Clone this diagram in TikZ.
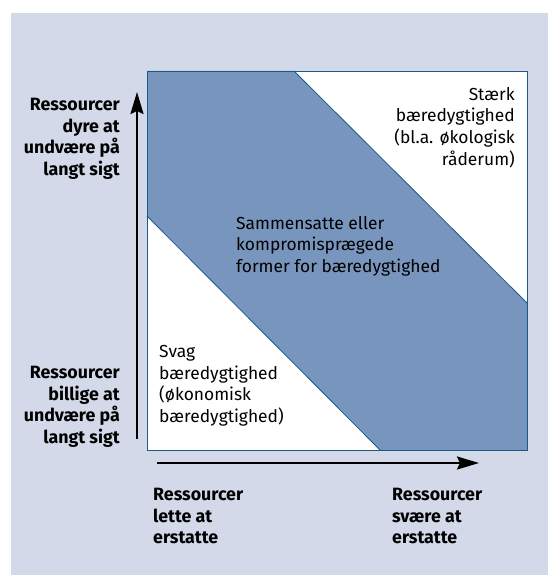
\documentclass[tikz,border=0pt]{standalone}
\usepackage{fontspec}
\setmainfont{Fira Sans}
\usetikzlibrary{arrows.meta}
\definecolor{panel}{HTML}{D3D9E8}
\definecolor{band}{HTML}{7896BD}
\definecolor{edge}{HTML}{1A5A8A}
\tikzset{
  axislabel/.style={inner sep=0pt, font=\fontsize{17.8}{21.5}\selectfont\bfseries},
  innerlabel/.style={inner sep=0pt, font=\fontsize{17.4}{21.7}\selectfont},
  axisarrow/.style={line width=2.2pt, -{Stealth[length=22pt,width=13pt,inset=3pt]}},
  edgeline/.style={draw=edge, line width=0.8pt}
}
\begin{document}
\begin{tikzpicture}[x=1pt,y=-1pt]
\useasboundingbox (0,0) rectangle (548,575);
\fill[panel] (11,13) rectangle (548,575);
% square
\fill[white] (147,71) rectangle (527,450);
\fill[band] (147,71) -- (294,71) -- (527,303) -- (527,450) -- (380,450) -- (147,216) -- cycle;
\draw[edgeline] (294,71) -- (527,303);
\draw[edgeline] (147,216) -- (380,450);
\draw[edgeline] (147,71) rectangle (527,450);
% arrows
\coordinate (vs) at (137,439);
\coordinate (ve) at (137,92);
\coordinate (hs) at (157,463);
\coordinate (he) at (479,463);
\draw[axisarrow] (vs) -- (ve);
\draw[axisarrow] (hs) -- (he);
% labels
\node[axislabel, anchor=north east, align=right] (lu) at (120,98) {Ressourcer\\dyre at\\undvære på\\langt sigt};
\node[axislabel, anchor=north east, align=right] (ll) at (120,366) {Ressourcer\\billige at\\undvære på\\langt sigt};
\node[axislabel, anchor=north west, align=left] (bl) at (153,488) {Ressourcer\\lette at\\erstatte};
\node[axislabel, anchor=north west, align=left] (br) at (392,488) {Ressourcer\\svære at\\erstatte};
\node[innerlabel, anchor=north east, align=right] (st) at (515,87) {Stærk\\bæredygtighed\\(bl.a. økologisk\\råderum)};
\node[innerlabel, anchor=north west, align=left] (sa) at (236,216) {Sammensatte eller\\kompromisprægede\\former for bæredygtighed};
\node[innerlabel, anchor=north west, align=left] (sv) at (159,345) {Svag\\bæredygtighed\\(økonomisk\\bæredygtighed)};
\end{tikzpicture}
\end{document}
